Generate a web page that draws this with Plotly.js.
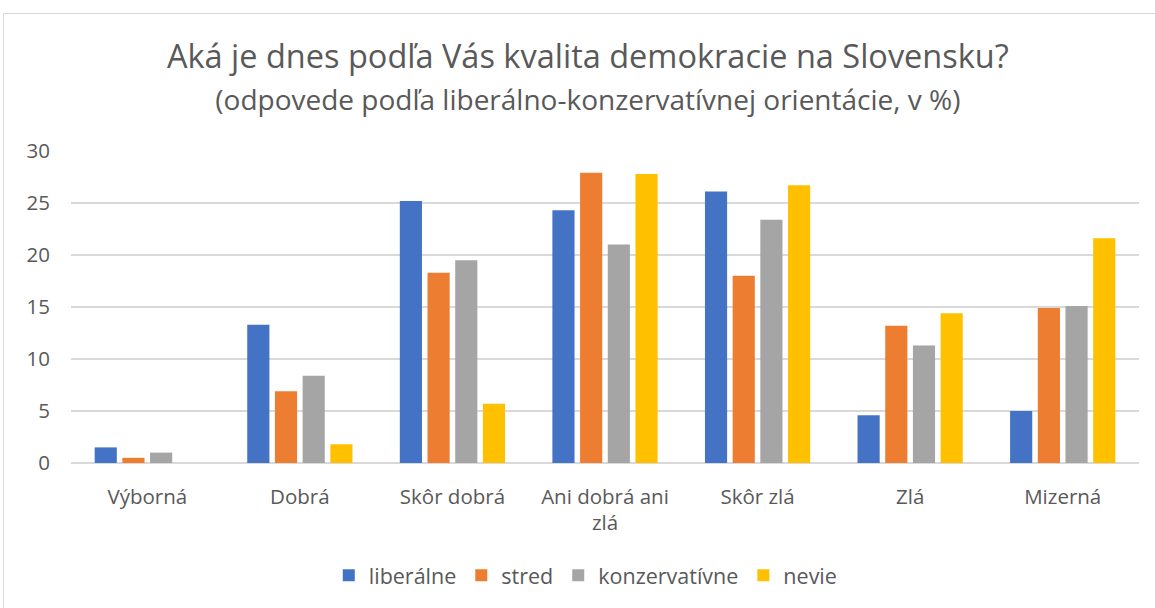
<!DOCTYPE html>
<html>
<head>
<meta charset="utf-8">
<script src="https://cdn.plot.ly/plotly-3.0.1.min.js"></script>
<style>
  html, body { margin: 0; padding: 0; background: #fff; }
  #chart { width: 1155px; height: 608px; position: absolute; left: 0; top: 0; }
  #frame { position: absolute; left: 3px; top: 13px; width: 1160px; height: 610px; border: 1px solid #d9d9d9; pointer-events: none; }
</style>
</head>
<body>
<div id="chart"></div>
<div id="frame"></div>
<script>
const categories = ["Výborná", "Dobrá", "Skôr dobrá", "Ani dobrá ani<br>zlá", "Skôr zlá", "Zlá", "Mizerná"];
const liberalne    = [1.5, 13.3, 25.2, 24.3, 26.1, 4.6, 5.0];
const stred        = [0.5, 6.9, 18.3, 27.9, 18.0, 13.2, 14.9];
const konzervativne = [1.0, 8.4, 19.5, 21.0, 23.4, 11.3, 15.1];
const nevie        = [0.0, 1.8, 5.7, 27.8, 26.7, 14.4, 21.6];
const seriesNames  = ["liberálne", "stred", "konzervatívne", "nevie"];
const seriesColors = ["#4472C4", "#ED7D31", "#A5A5A5", "#FFC000"];
const yTicks = [0, 5, 10, 15, 20, 25, 30];

const values = [liberalne, stred, konzervativne, nevie];
const FONT = "'Open Sans', Lato, sans-serif";

const traces = values.map((v, i) => ({
  type: "bar",
  name: seriesNames[i],
  x: categories,
  y: v,
  marker: { color: seriesColors[i], line: { width: 0 } },
  hoverinfo: "x+y+name"
}));

const layout = {
  width: 1155,
  height: 608,
  paper_bgcolor: "rgba(0,0,0,0)",
  plot_bgcolor: "#ffffff",
  margin: { l: 71, r: 16, t: 151, b: 142 },
  font: { family: FONT, color: "#595959", size: 20 },
  title: {
    text: "Aká je dnes podľa Vás kvalita demokracie na Slovensku?<br><span style='font-size:28px'>(odpovede podľa liberálno-konzervatívnej orientácie, v %)</span>",
    font: { family: FONT, size: 32.5, color: "#595959" },
    x: 0.509, xanchor: "center",
    y: 0.888, yanchor: "middle", yref: "container"
  },
  barmode: "group",
  bargap: 0.274,
  bargroupgap: 0.2,
  xaxis: {
    type: "category",
    showgrid: false,
    showline: false,
    ticks: "",
    tickfont: { family: FONT, size: 20.5, color: "#595959" },
    ticklabelstandoff: 19
  },
  yaxis: {
    range: [0, 30],
    tickvals: yTicks,
    ticktext: yTicks.map(String),
    showgrid: true,
    gridcolor: "#d9d9d9",
    gridwidth: 1.3,
    zeroline: true,
    zerolinecolor: "#d9d9d9",
    zerolinewidth: 1.3,
    showline: false,
    ticks: "",
    tickfont: { family: FONT, size: 20.5, color: "#595959" },
    ticklabelstandoff: 20
  },
  showlegend: true,
  legend: {
    orientation: "h",
    x: 0.482, xanchor: "center",
    y: -0.36, yanchor: "middle",
    font: { family: FONT, size: 21.5, color: "#595959" },
    itemwidth: 30,
    traceorder: "normal"
  }
};

Plotly.newPlot("chart", traces, layout, { displayModeBar: false, staticPlot: true });
</script>
</body>
</html>
